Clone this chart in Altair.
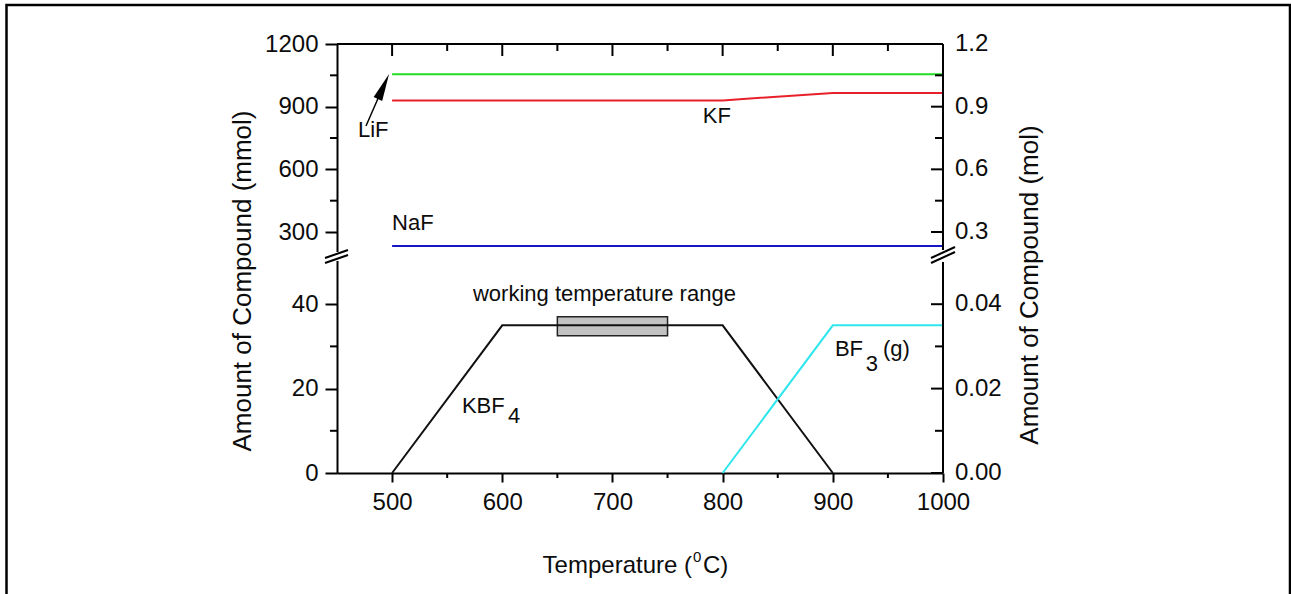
import altair as alt
import pandas as pd

# ---------------- data (temperature in deg C, amount in mmol) ----------------
kbf4_t = [500, 600, 800, 900]
kbf4_v = [0, 35, 35, 0]
bf3_t = [800, 900, 1000]
bf3_v = [0, 35, 35]
kf_t = [500, 800, 900, 1000]
kf_v = [930, 930, 966, 966]
lif_t = [500, 1000]
lif_v = [1055, 1055]
naf_t = [500, 1000]
naf_v = [233, 233]

series_names = ["KBF4", "BF3", "KF", "LiF", "NaF"]
series_colors = ["#111111", "#2ee6ec", "#e8202a", "#22dd22", "#1414c8"]

# working temperature range box
box_t = [650, 750]
box_v = [32.5, 37]

# LiF arrow (tail -> base of head) and head position
arrow_t = [476.3, 489.0]
arrow_v = [807.5, 960.6]
head_t = [492.2]
head_v = [996.6]

# ticks
x_major = [500, 600, 700, 800, 900, 1000]
x_minor = [550, 650, 750, 850, 950]
y_major = [0, 20, 40, 300, 600, 900, 1200]
y_minor = [10, 30, 450, 750, 1050]
right_labels = ["0.00", "0.02", "0.04", "0.3", "0.6", "0.9", "1.2"]

# broken y axis: lower part 0-50, upper part 190-1200
y_domain = [0, 50, 190, 1200]

# annotations: text, t, v, size
ann_text = ["LiF", "KF", "NaF", "working temperature range", "KBF", "4", "BF", "3", "(g)"]
ann_t = [469, 782, 500, 692.7, 563.4, 605.2, 901.9, 930.0, 945.5]
ann_v = [755, 822, 310, 40.7, 14.1, 11.8, 27.8, 24.2, 27.8]
ann_align = ["left", "left", "left", "center", "left", "left", "left", "left", "left"]

# ---------------- layout ----------------
W, H = 606, 429
FONT = "Liberation Sans"
TXT = "#0c0c0c"

xs = alt.Scale(domain=[450, 1000], nice=False, zero=False)
ys = alt.Scale(domain=y_domain, range=[H, 218, 211, 0], nice=False, zero=False)

xaxis = alt.Axis(values=x_major, title=None, grid=False, tickSize=9, tickWidth=2,
                 tickColor="black", domainColor="black", domainWidth=2,
                 labelFontSize=24, labelFont=FONT, labelColor=TXT, labelPadding=8,
                 labelFlush=False, labelOverlap=False, format="d")
yaxis = alt.Axis(values=y_major, title=None, grid=False, tickSize=12, tickWidth=2,
                 tickColor="black", domainColor="black", domainWidth=2,
                 labelFontSize=24, labelFont=FONT, labelColor=TXT, labelPadding=7,
                 labelOverlap=False, format="d")


def X(f):
    return alt.X(f, type="quantitative", scale=xs, axis=xaxis)


def Y(f):
    return alt.Y(f, type="quantitative", scale=ys, axis=yaxis)


rows = []
for name, ts, vs in zip(series_names,
                        [kbf4_t, bf3_t, kf_t, lif_t, naf_t],
                        [kbf4_v, bf3_v, kf_v, lif_v, naf_v]):
    for t, v in zip(ts, vs):
        rows.append({"s": name, "t": t, "v": v})
df_lines = pd.DataFrame(rows)

lines = alt.Chart(df_lines).mark_line(strokeWidth=2).encode(
    x=X("t"), y=Y("v"),
    color=alt.Color("s:N", scale=alt.Scale(domain=series_names, range=series_colors), legend=None),
)

box = alt.Chart(pd.DataFrame({"t0": [box_t[0]], "t1": [box_t[1]],
                              "v0": [box_v[0]], "v1": [box_v[1]]})).mark_rect(
    fill="#c2c2c2", stroke="#222222", strokeWidth=1.5
).encode(x=X("t0"), x2="t1", y=Y("v0"), y2="v1")

arrow = alt.Chart(pd.DataFrame({"t": arrow_t, "v": arrow_v})).mark_line(
    color="black", strokeWidth=1.5).encode(x=X("t"), y=Y("v"))
head = alt.Chart(pd.DataFrame({"t": head_t, "v": head_v})).mark_point(
    shape="M0,-1L0.34,1L-0.34,1Z", filled=True, fill="black", opacity=1,
    size=750, angle=24, strokeWidth=0).encode(x=X("t"), y=Y("v"))

ann = alt.Chart(pd.DataFrame({"txt": ann_text, "t": ann_t, "v": ann_v, "al": ann_align}))
ann_left = ann.transform_filter(alt.datum.al == "left").mark_text(
    font=FONT, fontSize=22, color=TXT, align="left", baseline="alphabetic"
).encode(x=X("t"), y=Y("v"), text="txt:N")
ann_center = ann.transform_filter(alt.datum.al == "center").mark_text(
    font=FONT, fontSize=22, color=TXT, align="center", baseline="alphabetic"
).encode(x=X("t"), y=Y("v"), text="txt:N")

df_ymaj = pd.DataFrame({"v": y_major, "lab": right_labels})
df_ymin = pd.DataFrame({"v": y_minor})
df_xmaj = pd.DataFrame({"t": x_major})
df_xmin = pd.DataFrame({"t": x_minor})

rule_kw = dict(color="black", strokeWidth=2)
right_major = alt.Chart(df_ymaj).mark_rule(**rule_kw).encode(
    y=Y("v"), x=alt.value(W - 12), x2=alt.value(W))
right_minor = alt.Chart(df_ymin).mark_rule(**rule_kw).encode(
    y=Y("v"), x=alt.value(W - 8), x2=alt.value(W))
left_minor = alt.Chart(df_ymin).mark_rule(**rule_kw).encode(
    y=Y("v"), x=alt.value(-7), x2=alt.value(0))
top_major = alt.Chart(df_xmaj).mark_rule(**rule_kw).encode(
    x=X("t"), y=alt.value(0), y2=alt.value(12))
top_minor = alt.Chart(df_xmin).mark_rule(**rule_kw).encode(
    x=X("t"), y=alt.value(0), y2=alt.value(7))
bottom_minor = alt.Chart(df_xmin).mark_rule(**rule_kw).encode(
    x=X("t"), y=alt.value(H), y2=alt.value(H + 5))
right_text = alt.Chart(df_ymaj).mark_text(
    font=FONT, fontSize=24, color=TXT, align="left", baseline="middle"
).encode(y=Y("v"), x=alt.value(W + 12), text="lab:N")

dummy = pd.DataFrame({"a": [0]})


def vrule(x1, y1, x2, y2, w=2.0):
    return alt.Chart(dummy).mark_rule(color="black", strokeWidth=w).encode(
        x=alt.value(x1), y=alt.value(y1), x2=alt.value(x2), y2=alt.value(y2))


frame_top = vrule(0, 0, W, 0)
frame_right = vrule(W, 0, W, H)
breaks = [
    alt.Chart(dummy).mark_rect(fill="white").encode(
        x=alt.value(-3), x2=alt.value(3), y=alt.value(208), y2=alt.value(217)),
    alt.Chart(dummy).mark_rect(fill="white").encode(
        x=alt.value(W - 3), x2=alt.value(W + 3), y=alt.value(206), y2=alt.value(218)),
    vrule(-12, 214, 11, 206), vrule(-12, 219, 11, 211),
    vrule(W - 12, 219, W + 12, 208), vrule(W - 12, 214, W + 12, 203),
]

outer = alt.Chart(dummy).mark_rect(fillOpacity=0, stroke="black", strokeWidth=2.5).encode(
    x=alt.value(6.5 - 337), x2=alt.value(1290 - 337), y=alt.value(5 - 44), y2=alt.value(620 - 44))


def label(text, x, y, size, angle=0, align="center", baseline="middle"):
    kw = dict(text=text, font=FONT, fontSize=size, color=TXT, align=align, baseline=baseline)
    if angle:
        kw["angle"] = angle
    return alt.Chart(dummy).mark_text(**kw).encode(x=alt.value(x), y=alt.value(y))


titles = [
    label("Amount of Compound (mmol)", -94, 237, 26, angle=270),
    label("Amount of Compound (mol)", 693, 241, 26, angle=270),
    label("Temperature (", 355, 529, 24, align="right", baseline="alphabetic"),
    label("0", 356, 518, 15, align="left", baseline="alphabetic"),
    label("C)", 366, 529, 24, align="left", baseline="alphabetic"),
]

chart = alt.layer(
    outer, box, lines, arrow, head, ann_left, ann_center,
    right_major, right_minor, left_minor, top_major, top_minor, bottom_minor,
    right_text, frame_top, frame_right, *breaks, *titles,
).properties(
    width=W, height=H,
    autosize=alt.AutoSizeParams(type="none"),
    padding={"left": 337, "top": 44, "right": 348, "bottom": 121},
    background="white",
).configure_view(strokeWidth=0)

chart.save("out.html", embed_options={"renderer": "svg", "actions": False})
